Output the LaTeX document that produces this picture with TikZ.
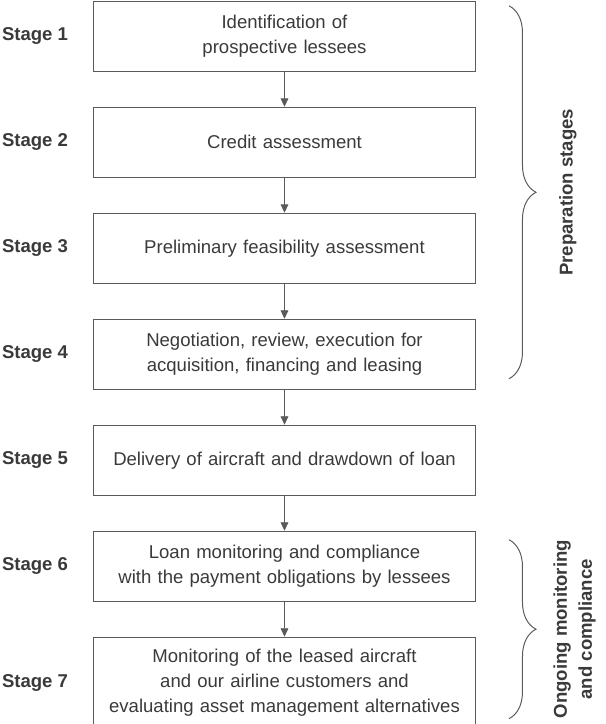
\documentclass[tikz,border=0pt]{standalone}
\usepackage{fontspec}
\setmainfont{Liberation Sans}
\usepackage{tikz}
\usetikzlibrary{arrows.meta,positioning,decorations.pathreplacing}
\usepackage{xcolor}
\definecolor{inkgray}{HTML}{3A3A3A}
\definecolor{linegray}{HTML}{5A5A5A}

\begin{document}
\begin{tikzpicture}[node distance=0.875cm]
	\tikzstyle{stagebox}
	  =[draw=linegray, line width=0.7pt, rectangle, text width=9.55cm,
	  inner xsep=0pt, minimum height=1.75cm, text centered, text=inkgray,
	  font=\fontsize{13.2}{17.8}\selectfont]
	\tikzstyle{stagelbl}
	  =[text=inkgray, font=\fontsize{13.2}{17.8}\selectfont\bfseries]
	\tikzstyle{flow}
	  =[draw=linegray, line width=0.6pt, -{Triangle[width=5.5pt,length=6pt]}]
	\tikzstyle{curly}
	  =[draw=linegray, line width=0.7pt, decorate,
	  decoration={brace, amplitude=0.675cm}]
	\tikzstyle{sidelbl}
	  =[text=inkgray, font=\fontsize{13.2}{17.8}\selectfont\bfseries,
	  rotate=90, anchor=north, align=center]

	\useasboundingbox (-2.325,0) rectangle (12.8,-18.1);

	\node[stagebox, anchor=north west] (s1)
	  at (0,-0.02) {Identification of\\prospective lessees};
	\node[stagebox] (s2)
	  [below=of s1] {Credit assessment};
	\node[stagebox] (s3)
	  [below=of s2] {Preliminary feasibility assessment};
	\node[stagebox] (s4)
	  [below=of s3] {Negotiation, review, execution for\\acquisition, financing and leasing};
	\node[stagebox] (s5)
	  [below=of s4] {Delivery of aircraft and drawdown of loan};
	\node[stagebox] (s6)
	  [below=of s5] {Loan monitoring and compliance\\with the payment obligations by lessees};
	\node[stagebox, minimum height=2.275cm] (s7)
	  [below=of s6] {Monitoring of the leased aircraft\\and our airline customers and\\evaluating asset management alternatives};

	% stage numbers on the left
	\foreach \i in {1,...,7}
	  \node[stagelbl] (l\i) [left=0.5cm of s\i] {Stage \i};

	% arrows between the stages
	\foreach \i/\j in {1/2,2/3,3/4,4/5,5/6,6/7}
	  \draw[flow] (s\i) -- (s\j);

	% braces on the right
	\draw[curly] ([xshift=0.825cm, yshift=-0.125cm]s1.north east)
	  -- ([xshift=0.825cm, yshift=0.275cm]s4.south east)
	  node[midway, xshift=1.125cm, sidelbl] (prep) {Preparation stages};
	\draw[curly] ([xshift=0.825cm, yshift=-0.225cm]s6.north east)
	  -- ([xshift=0.825cm, yshift=0.25cm]s7.south east)
	  node[midway, xshift=0.98cm, sidelbl] (ongo) {Ongoing monitoring\\and compliance};
\end{tikzpicture}
\end{document}
